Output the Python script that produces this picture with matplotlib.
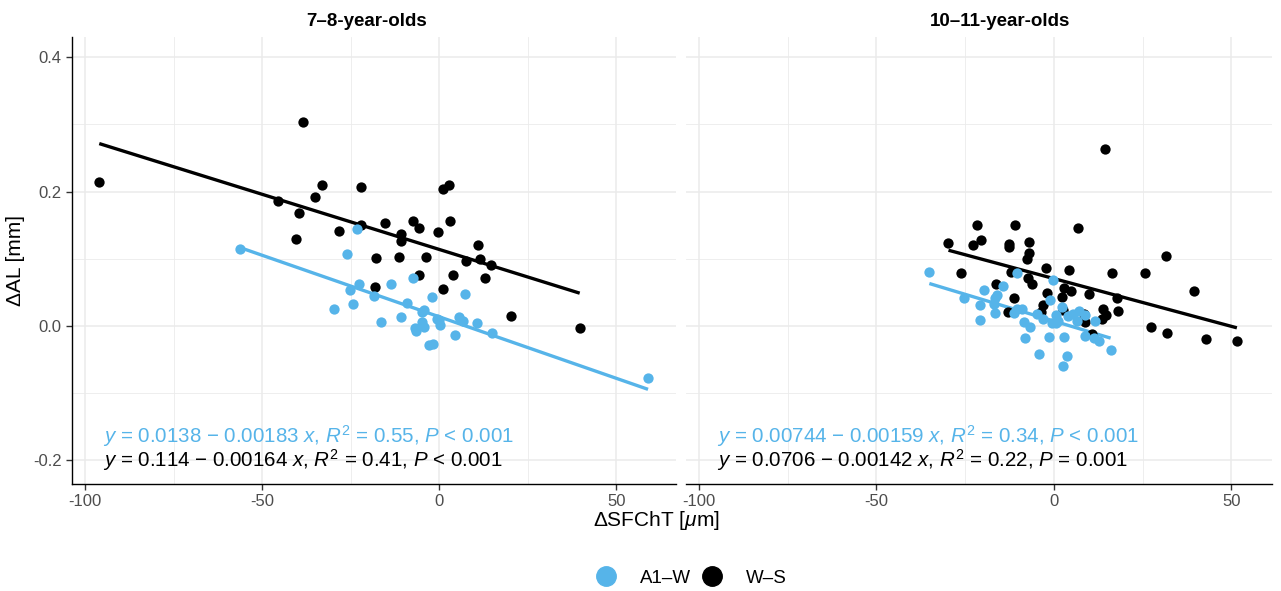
import numpy as np
import matplotlib
matplotlib.use('Agg')
import matplotlib.pyplot as plt
from matplotlib.lines import Line2D

plt.rcParams['font.family'] = ['Liberation Sans', 'DejaVu Sans']
plt.rcParams['mathtext.fontset'] = 'custom'
plt.rcParams['mathtext.rm'] = 'Liberation Sans'
plt.rcParams['mathtext.it'] = 'Liberation Sans:italic'

BLUE = '#56B4E9'
BLACK = '#000000'

# --- data: 7-8-year-olds ---
young_a1w_x = [-56.2, -23.3, -25.9, -22.7, -25.3, -29.6, -24.4, -18.3, -16.4, -13.6, -7.3, -9.1,
               -10.7, -2.0, -4.9, -4.3, -4.9, -4.3, -6.5, -6.8, -3.0, -1.8, -0.6, 0.1, 0.3, 7.4,
               5.6, 6.7, 4.5, 10.6, 14.9, 59.0]
young_a1w_y = [0.114, 0.144, 0.107, 0.063, 0.053, 0.025, 0.033, 0.044, 0.006, 0.063, 0.072, 0.035,
               0.014, 0.043, 0.021, 0.024, 0.006, -0.001, -0.008, -0.003, -0.028, -0.027, 0.010, 0.009,
               0.002, 0.047, 0.014, 0.008, -0.013, 0.005, -0.011, -0.077]
young_ws_x = [-96.0, -38.5, -33.1, -22.0, -45.4, -35.2, -39.7, -22.0, -28.2, -40.4, -15.3, -7.3,
              -5.7, -10.8, -10.8, -0.4, -17.7, -11.3, -3.6, -5.7, -18.2, 1.1, 1.2, 2.8, 3.1, 11.1,
              7.7, 11.6, 14.6, 4.0, 13.0, 20.2, 39.7]
young_ws_y = [0.214, 0.303, 0.210, 0.207, 0.186, 0.192, 0.168, 0.151, 0.142, 0.130, 0.153, 0.156,
              0.146, 0.137, 0.127, 0.140, 0.101, 0.102, 0.103, 0.076, 0.058, 0.055, 0.204, 0.210,
              0.157, 0.121, 0.097, 0.099, 0.091, 0.076, 0.071, 0.015, -0.003]

# --- data: 10-11-year-olds ---
old_a1w_x = [-35.1, -10.5, -0.2, -14.4, -19.6, -25.2, -16.1, -16.5, -20.8, -16.8, -16.6, -20.9,
             -11.1, -9.0, -10.3, -1.0, -4.7, -3.0, -8.3, -6.8, -8.2, -1.4, 2.9, -4.1, 3.7, 2.5,
             0.6, 1.2, -0.4, 0.7, 2.3, 4.0, 5.4, 7.0, 6.4, 8.9, 11.7, 8.8, 11.4, 12.8, 16.0]
old_a1w_y = [0.081, 0.079, 0.068, 0.060, 0.054, 0.041, 0.046, 0.041, 0.031, 0.033, 0.019, 0.009,
             0.019, 0.026, 0.025, 0.038, 0.018, 0.010, 0.006, -0.002, -0.018, -0.017, -0.017,
             -0.041, -0.045, -0.060, 0.017, 0.007, 0.005, 0.004, 0.029, 0.015, 0.018, 0.022, 0.007,
             0.017, 0.008, -0.015, -0.018, -0.023, -0.036]
old_ws_x = [14.5, -29.7, -21.8, -11.0, -22.8, -20.4, -12.7, -12.7, -6.9, -7.0, -7.5, 6.8, 31.5,
            -26.2, -12.1, -2.3, 4.4, 16.5, 25.7, -7.3, -6.1, -16.4, 2.8, 4.7, -2.0, 2.2, 9.8, 17.7,
            39.5, -11.1, -3.1, -3.5, -13.0, 2.7, 8.4, 8.8, 13.9, 14.7, 13.7, 18.2, 10.8, 27.3,
            32.0, 42.8, 51.6]
old_ws_y = [0.263, 0.123, 0.151, 0.151, 0.120, 0.128, 0.122, 0.118, 0.125, 0.108, 0.099, 0.146,
            0.104, 0.079, 0.080, 0.087, 0.083, 0.079, 0.079, 0.072, 0.062, 0.063, 0.057, 0.052,
            0.049, 0.043, 0.047, 0.041, 0.052, 0.041, 0.032, 0.021, 0.021, 0.024, 0.018, 0.006,
            0.026, 0.016, 0.011, 0.023, -0.012, -0.001, -0.010, -0.020, -0.022]

# regression coefficients (intercept, slope) as printed
young_a1w_fit = (0.0138, -0.00183)
young_ws_fit = (0.114, -0.00164)
old_a1w_fit = (0.00744, -0.00159)
old_ws_fit = (0.0706, -0.00142)

young_a1w_eq = r'$y$ = 0.0138 $-$ 0.00183 $x$, $R^2$ = 0.55, $P$ < 0.001'
young_ws_eq = r'$y$ = 0.114 $-$ 0.00164 $x$, $R^2$ = 0.41, $P$ < 0.001'
old_a1w_eq = r'$y$ = 0.00744 $-$ 0.00159 $x$, $R^2$ = 0.34, $P$ < 0.001'
old_ws_eq = r'$y$ = 0.0706 $-$ 0.00142 $x$, $R^2$ = 0.22, $P$ = 0.001'

panels = [
    ('7\u20138-year-olds', young_a1w_x, young_a1w_y, young_ws_x, young_ws_y,
     young_a1w_fit, young_ws_fit, young_a1w_eq, young_ws_eq),
    ('10\u201311-year-olds', old_a1w_x, old_a1w_y, old_ws_x, old_ws_y,
     old_a1w_fit, old_ws_fit, old_a1w_eq, old_ws_eq),
]

fig = plt.figure(figsize=(12.81, 5.91), dpi=100)
ax1 = fig.add_axes([72 / 1281, 107 / 591, 604 / 1281, 447 / 591])
ax2 = fig.add_axes([686 / 1281, 107 / 591, 586 / 1281, 447 / 591])
axes = [ax1, ax2]
xlims = [(-103.7, 66.9), (-103.7, 61.5)]
title_x = [0.488, 0.536]

for i, (ax, p) in enumerate(zip(axes, panels)):
    title, bx, by, kx, ky, bfit, kfit, beq, keq = p
    ax.set_xlim(*xlims[i])
    ax.set_ylim(-0.235, 0.43)
    ax.set_xticks([-100, -50, 0, 50])
    ax.set_xticks([-75, -25, 25], minor=True)
    ax.set_yticks([-0.2, 0.0, 0.2, 0.4])
    ax.set_yticks([-0.1, 0.1, 0.3], minor=True)
    ax.grid(True, which='major', color='#ebebeb', lw=1.1)
    ax.grid(True, which='minor', color='#ebebeb', lw=0.6)
    ax.set_axisbelow(True)
    for s in ['top', 'right']:
        ax.spines[s].set_visible(False)
    ax.spines['bottom'].set_linewidth(1.0)
    ax.tick_params(axis='both', which='major', labelsize=12, labelcolor='#4d4d4d',
                   color='#333333', length=4, width=1)
    ax.tick_params(axis='both', which='minor', length=0)
    if i == 0:
        ax.set_yticklabels(['-0.2', '0.0', '0.2', '0.4'])
        ax.spines['left'].set_linewidth(1.0)
    else:
        ax.spines['left'].set_visible(False)
        ax.tick_params(axis='y', which='both', left=False, labelleft=False)
    ax.set_xticklabels(['-100', '-50', '0', '50'])

    # regression lines
    for xs, fit, col in [(bx, bfit, BLUE), (kx, kfit, BLACK)]:
        xr = np.array([min(xs), max(xs)])
        ax.plot(xr, fit[0] + fit[1] * xr, color=col, lw=2.4, zorder=2, solid_capstyle='butt')
    ax.scatter(kx, ky, s=55, color=BLACK, zorder=3, linewidths=0)
    ax.scatter(bx, by, s=55, color=BLUE, zorder=3, linewidths=0)

    ax.text(-95, -0.164, beq, color=BLUE, fontsize=14.8, va='center', ha='left')
    ax.text(-95, -0.199, keq, color=BLACK, fontsize=14.8, va='center', ha='left')
    ax.set_title(title, fontsize=13.5, fontweight='bold', pad=8, x=title_x[i])

ax1.set_ylabel('\u0394AL [mm]', fontsize=15, labelpad=6)
fig.text(656 / 1281, 1 - 520 / 591, '\u0394SFChT [$\\mu$m]', fontsize=15, ha='center', va='center')

handles = [Line2D([], [], marker='o', ls='', color=BLUE, markersize=14),
           Line2D([], [], marker='o', ls='', color=BLACK, markersize=14)]
fig.legend(handles, ['A1\u2013W', 'W\u2013S'], loc='center', bbox_to_anchor=(687 / 1281, 1 - 578 / 591),
           ncol=2, frameon=False, fontsize=13.5, handletextpad=0.8, columnspacing=0.1)

fig.savefig('out.png', dpi=100)
